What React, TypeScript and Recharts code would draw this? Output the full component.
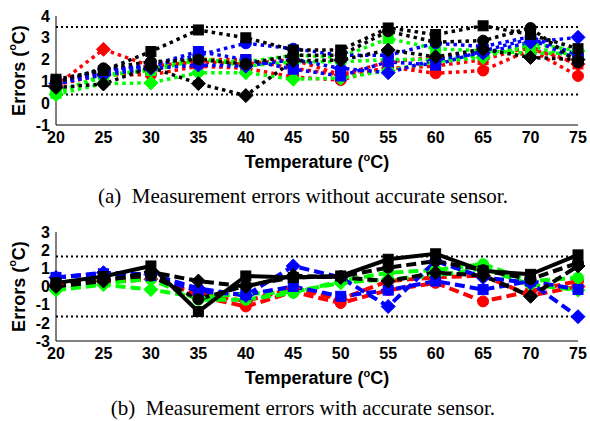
import React from 'react'
import { LineChart, Line, XAxis, YAxis, ReferenceLine } from 'recharts'

// temperatures (x axis)
const temps = [20, 25, 30, 35, 40, 45, 50, 55, 60, 65, 70, 75]
const xTicks = [20, 25, 30, 35, 40, 45, 50, 55, 60, 65, 70, 75]
const yTicksA = [-1, 0, 1, 2, 3, 4]
const yTicksB = [-3, -2, -1, 0, 1, 2, 3]
const boundsA = [3.5, 0.4]
const boundsB = [1.65, -1.65]

// (a) errors without accurate sensor
const aRedDiamond = [0.8, 2.47, 1.7, 1.9, 1.8, 2.0, 1.3, 1.9, 2.1, 2.3, 2.5, 1.8]
const aRedSquare = [0.9, 1.4, 1.5, 2.0, 2.0, 1.6, 1.3, 1.6, 1.7, 2.0, 2.6, 1.8]
const aRedCircle = [0.85, 1.3, 1.3, 1.7, 1.6, 1.2, 1.06, 1.67, 1.37, 1.5, 2.45, 1.25]
const aGreenDiamond = [0.4, 0.9, 0.93, 1.4, 1.4, 1.1, 1.15, 1.5, 1.9, 2.1, 2.75, 2.4]
const aGreenSquare = [0.45, 1.3, 1.5, 1.98, 1.9, 2.2, 2.1, 2.97, 2.5, 2.4, 2.3, 2.28]
const aGreenCircle = [0.5, 1.2, 1.6, 2.1, 1.7, 1.9, 1.9, 2.0, 2.0, 2.2, 2.6, 2.1]
const aBlueDiamond = [0.9, 1.3, 1.6, 1.75, 1.7, 2.0, 1.6, 1.4, 2.0, 2.3, 2.8, 3.02]
const aBlueSquare = [1.0, 1.45, 1.75, 2.37, 2.0, 1.56, 1.25, 1.9, 1.75, 2.4, 2.95, 2.0]
const aBlueCircle = [0.85, 1.55, 1.7, 2.2, 2.75, 2.5, 2.2, 2.2, 2.75, 2.6, 3.05, 2.2]
const aBlackDiamond = [0.72, 0.88, 1.65, 0.9, 0.35, 1.95, 1.98, 2.44, 2.13, 2.47, 2.1, 2.0]
const aBlackCircle = [0.95, 1.6, 1.9, 2.0, 1.8, 2.2, 2.2, 3.3, 2.8, 2.87, 3.45, 1.87]
const aBlackSquare = [1.1, 1.5, 2.37, 3.36, 3.0, 2.44, 2.44, 3.45, 3.15, 3.55, 3.15, 2.5]

// (b) errors with accurate sensor
const bRedDiamond = [0.1, 0.25, 0.4, -0.4, -0.8, -0.1, -0.7, 0.3, 0.5, 0.6, -0.5, 0.0]
const bRedCircle = [0.1, 0.3, 0.48, -0.54, -1.1, -0.3, -0.91, -0.2, 0.2, -0.82, -0.26, 0.3]
const bGreenDiamond = [-0.2, 0.1, -0.17, -0.6, -0.4, -0.3, 0.2, 0.4, 0.6, 1.0, 0.1, -0.2]
const bGreenCircle = [-0.17, 0.2, 0.4, -0.73, -0.73, -0.35, 0.3, 0.76, 0.9, 1.23, 0.3, 0.48]
const bBlueSquare = [0.5, 0.7, 0.6, -0.26, -0.45, 0.0, -0.54, -0.2, 0.3, -0.17, 0.3, -0.17]
const bBlueDiamond = [0.5, 0.76, 0.67, -0.1, -0.5, 1.13, 0.5, -1.1, 1.4, 0.5, 0.2, -1.66]
const bBlackDiamond = [0.0, 0.3, 0.8, 0.3, 0.0, 0.6, 0.5, 0.3, 0.76, 0.6, -0.54, 1.13]
const bBlackCircle = [0.05, 0.4, 0.6, -0.7, 0.05, 0.5, 0.55, 1.04, 1.4, 0.9, 0.4, 1.3]
const bBlackSquare = [0.2, 0.55, 1.13, -1.38, 0.58, 0.5, 0.58, 1.5, 1.8, 0.86, 0.67, 1.74]

const RED = '#ff0000'
const GREEN = '#00ff00'
const BLUE = '#0000ff'
const BLACK = '#000000'
const SANS = '"Liberation Sans", Arial, sans-serif'
const SERIF = '"Liberation Serif", "Times New Roman", serif'

type Series = { key: string; color: string; shape: string; values: number[]; dash: string }

const seriesA: Series[] = [
  { key: 'rd', color: RED, shape: 'diamond', values: aRedDiamond, dash: 'dot' },
  { key: 'rs', color: RED, shape: 'square', values: aRedSquare, dash: 'dot' },
  { key: 'rc', color: RED, shape: 'circle', values: aRedCircle, dash: 'dot' },
  { key: 'gd', color: GREEN, shape: 'diamond', values: aGreenDiamond, dash: 'dot' },
  { key: 'gs', color: GREEN, shape: 'square', values: aGreenSquare, dash: 'dot' },
  { key: 'gc', color: GREEN, shape: 'circle', values: aGreenCircle, dash: 'dot' },
  { key: 'ud', color: BLUE, shape: 'diamond', values: aBlueDiamond, dash: 'dot' },
  { key: 'us', color: BLUE, shape: 'square', values: aBlueSquare, dash: 'dot' },
  { key: 'uc', color: BLUE, shape: 'circle', values: aBlueCircle, dash: 'dot' },
  { key: 'kd', color: BLACK, shape: 'diamond', values: aBlackDiamond, dash: 'dot' },
  { key: 'kc', color: BLACK, shape: 'circle', values: aBlackCircle, dash: 'dot' },
  { key: 'ks', color: BLACK, shape: 'square', values: aBlackSquare, dash: 'dot' },
]

const seriesB: Series[] = [
  { key: 'rd', color: RED, shape: 'diamond', values: bRedDiamond, dash: 'dash' },
  { key: 'rc', color: RED, shape: 'circle', values: bRedCircle, dash: 'dash' },
  { key: 'gd', color: GREEN, shape: 'diamond', values: bGreenDiamond, dash: 'dash' },
  { key: 'gc', color: GREEN, shape: 'circle', values: bGreenCircle, dash: 'dash' },
  { key: 'us', color: BLUE, shape: 'square', values: bBlueSquare, dash: 'dash' },
  { key: 'ud', color: BLUE, shape: 'diamond', values: bBlueDiamond, dash: 'dash' },
  { key: 'kd', color: BLACK, shape: 'diamond', values: bBlackDiamond, dash: 'dash' },
  { key: 'kc', color: BLACK, shape: 'circle', values: bBlackCircle, dash: 'dash' },
  { key: 'ks', color: BLACK, shape: 'square', values: bBlackSquare, dash: 'solid' },
]

const toRows = (series: Series[]) =>
  temps.map((t, i) => {
    const row: Record<string, number> = { t }
    for (const s of series) row[s.key] = s.values[i]
    return row
  })

const rowsA = toRows(seriesA)
const rowsB = toRows(seriesB)

function Marker({ cx, cy, shape, color }: any) {
  if (cx == null || cy == null) return null
  if (shape === 'diamond') {
    const r = 7
    return <polygon points={`${cx},${cy - r} ${cx + r},${cy} ${cx},${cy + r} ${cx - r},${cy}`} fill={color} stroke={color} />
  }
  if (shape === 'square') {
    return <rect x={cx - 5} y={cy - 5} width={10} height={10} fill={color} stroke={color} />
  }
  return <circle cx={cx} cy={cy} r={5.5} fill={color} stroke={color} />
}

const tickStyle = { fill: '#000', fontSize: 16, fontWeight: 'bold', fontFamily: SANS }

const XTitle = (props: any) => {
  const vb = props.viewBox || { x: 56, y: 125, width: 522 }
  return (
    <text x={vb.x + vb.width / 2} y={vb.y + 43} textAnchor="middle" fill="#000"
      fontSize={18} fontWeight="bold" fontFamily={SANS}>
      Temperature (<tspan dy={-7} fontSize={11}>o</tspan><tspan dy={7}>C)</tspan>
    </text>
  )
}

const YTitle = (props: any) => {
  const vb = props.viewBox || { x: 0, y: 16, height: 109 }
  const x = vb.x + 19
  const y = vb.y + vb.height / 2
  return (
    <text x={x} y={y} transform={`rotate(-90, ${x}, ${y})`} textAnchor="middle"
      dominantBaseline="central" fill="#000" fontSize={18} fontWeight="bold" fontFamily={SANS}>
      Errors (<tspan dy={-7} fontSize={11}>o</tspan><tspan dy={7}>C)</tspan>
    </text>
  )
}

function ErrorPanel({ rows, series, domain, yTicks, bounds }: any) {
  return (
    <LineChart width={590} height={175} data={rows} margin={{ top: 16, right: 12, bottom: 0, left: 0 }}>
      <XAxis xAxisId="b" dataKey="t" type="number" domain={[20, 75]} ticks={xTicks} interval={0}
        tick={tickStyle} tickLine={false} tickSize={0} tickMargin={7} height={50}
        axisLine={{ stroke: '#000' }} label={{ content: XTitle }} />
      <XAxis xAxisId="t" orientation="top" dataKey="t" type="number" domain={[20, 75]} ticks={xTicks} interval={0}
        tick={false} mirror tickSize={5} height={0} axisLine={{ stroke: '#000' }} tickLine={{ stroke: '#000' }} />
      <YAxis yAxisId="l" type="number" domain={domain} ticks={yTicks} width={56} interval={0}
        tick={tickStyle} tickLine={false} tickSize={0} tickMargin={6}
        axisLine={{ stroke: '#000' }} label={{ content: YTitle }} />
      <YAxis yAxisId="r" orientation="right" type="number" domain={domain} ticks={yTicks} interval={0}
        tick={false} mirror tickSize={5} width={0} axisLine={{ stroke: '#000' }} tickLine={{ stroke: '#000' }} />
      {bounds.map((b: number) => (
        <ReferenceLine key={b} xAxisId="b" yAxisId="l" y={b} stroke="#000" strokeWidth={2} strokeDasharray="2 3" />
      ))}
      {series.map((s: Series) => (
        <Line key={s.key} xAxisId="b" yAxisId="l" dataKey={s.key} type="linear"
          stroke={s.color}
          strokeWidth={s.dash === 'dot' ? 3.5 : 4}
          strokeDasharray={s.dash === 'dot' ? '3.5 4' : s.dash === 'dash' ? '10 5' : undefined}
          isAnimationActive={false} activeDot={false}
          dot={(p: any) => <Marker key={`${s.key}-${p.index}`} cx={p.cx} cy={p.cy} shape={s.shape} color={s.color} />}
        />
      ))}
    </LineChart>
  )
}

export default function App() {
  const caption = { position: 'absolute' as const, left: 0, width: 606, textAlign: 'center' as const,
    fontFamily: SERIF, fontSize: 21, lineHeight: '24px', color: '#000', whiteSpace: 'pre' as const }
  return (
    <div style={{ position: 'absolute', left: 0, top: 0, width: 590, height: 421, background: '#fff', overflow: 'hidden' }}>
      <div style={{ position: 'absolute', left: 0, top: 0 }}>
        <ErrorPanel rows={rowsA} series={seriesA} domain={[-1, 4]} yTicks={yTicksA} bounds={boundsA} />
      </div>
      <div style={{ ...caption, top: 184 }}>{'(a)  Measurement errors without accurate sensor.'}</div>
      <div style={{ position: 'absolute', left: 0, top: 216 }}>
        <ErrorPanel rows={rowsB} series={seriesB} domain={[-3, 3]} yTicks={yTicksB} bounds={boundsB} />
      </div>
      <div style={{ ...caption, top: 396 }}>{'(b)  Measurement errors with accurate sensor.'}</div>
    </div>
  )
}
